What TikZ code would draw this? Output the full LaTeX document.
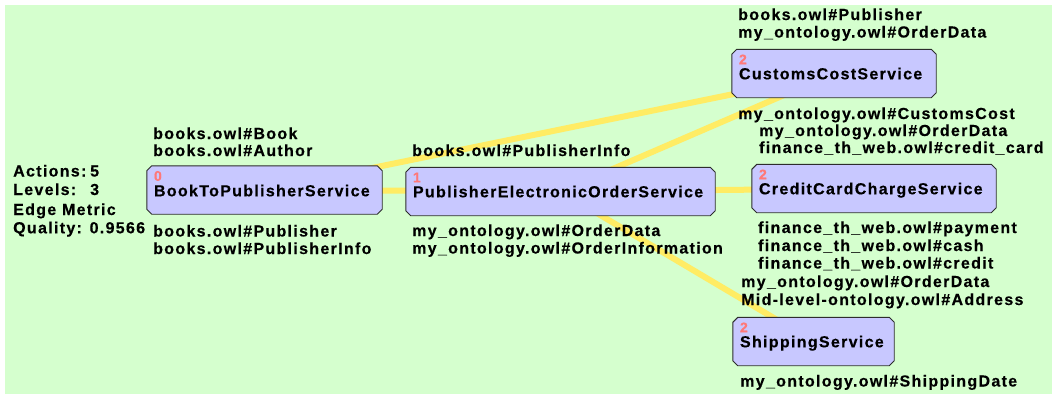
\documentclass[tikz,border=0pt]{standalone}
\usepackage{fontspec}
\newfontfamily\lblfont{Liberation Sans}[LetterSpace=8.2, BoldFeatures={FakeBold=0.4}]
\usetikzlibrary{calc}
\pgfdeclarelayer{edgelayer}
\pgfsetlayers{edgelayer,main}
\definecolor{bggreen}{RGB}{213,255,206}
\definecolor{boxfill}{RGB}{200,200,255}
\definecolor{boxline}{RGB}{45,45,45}
\definecolor{numred}{RGB}{255,120,120}
\definecolor{edgeyellow}{RGB}{255,236,100}
\tikzset{
  svc/.style={rectangle, minimum height=48pt, inner sep=0pt, draw=none},
  boxstyle/.style={fill=boxfill, draw=boxline, line width=0.9pt},
  lbl/.style={anchor=base west, inner sep=0pt, font=\lblfont\bfseries\fontsize{16}{18}\selectfont},
  num/.style={anchor=base west, inner sep=0pt, text=numred, font=\lblfont\bfseries\fontsize{14}{16}\selectfont},
  link/.style={line width=6pt, draw=edgeyellow},
}
\newcommand\chambox[1]{\draw[boxstyle] ($(#1.north west)+(5,0)$) -- ($(#1.north east)+(-5,0)$) -- ($(#1.north east)+(0,5)$) -- ($(#1.south east)+(0,-5)$) -- ($(#1.south east)+(-5,0)$) -- ($(#1.south west)+(5,0)$) -- ($(#1.south west)+(0,-5)$) -- ($(#1.north west)+(0,5)$) -- cycle;}
\begin{document}
\begin{tikzpicture}[x=1pt,y=-1pt]
\useasboundingbox (0,0) rectangle (1052,394);
% service boxes (geometry)
\node[svc, minimum width=235pt] (b0) at (264.5,190) {};
\node[svc, minimum width=309pt] (b1) at (560.5,191.5) {};
\node[svc, minimum width=204pt] (b2) at (834,73.5) {};
\node[svc, minimum width=244pt] (b3) at (874,188.5) {};
\node[svc, minimum width=161pt] (b4) at (813.5,341.5) {};
\begin{pgfonlayer}{edgelayer}
  \fill[bggreen] (5,5) rectangle (1052,394);
  \draw[link] (b0.center) -- (b2.center);
  \draw[link] (b0.center) -- (b1.center);
  \draw[link] (b1.center) -- (b2.center);
  \draw[link] (b1.center) -- (b3.center);
  \draw[link] (b1.center) -- (b4.center);
\end{pgfonlayer}
\chambox{b0}\chambox{b1}\chambox{b2}\chambox{b3}\chambox{b4}
% box contents
\node[num] (n0) at ($(b0.north west)+(7,15)$) {0};
\node[lbl] (s0) at ($(b0.north west)+(7,30.5)$) {BookToPublisherService};
\node[num] (n1) at ($(b1.north west)+(7,15)$) {1};
\node[lbl] (s1) at ($(b1.north west)+(7,30)$) {PublisherElectronicOrderService};
\node[num] (n2) at ($(b2.north west)+(7,15)$) {2};
\node[lbl] (s2) at ($(b2.north west)+(7,30)$) {CustomsCostService};
\node[num] (n3) at ($(b3.north west)+(7,15)$) {2};
\node[lbl] (s3) at ($(b3.north west)+(7,30)$) {CreditCardChargeService};
\node[num] (n4) at ($(b4.north west)+(7,15)$) {2};
\node[lbl] (s4) at ($(b4.north west)+(7,30)$) {ShippingService};
% statistics
\node[lbl] (st1) at (13,176.5) {\makebox[77pt][l]{Actions:}5};
\node[lbl] (st2) at (13,195) {\makebox[77pt][l]{Levels:}3};
\node[lbl] (st3) at (13,215) {Edge Metric};
\node[lbl] (st4) at (13,233.3) {Quality: 0.9566};
% labels of box 0
\node[lbl] (t0a) at (153,139) {books.owl\#Book};
\node[lbl] (t0b) at (153,156) {books.owl\#Author};
\node[lbl] (t0c) at (153,236.5) {books.owl\#Publisher};
\node[lbl] (t0d) at (153,254) {books.owl\#PublisherInfo};
% labels of box 1
\node[lbl] (t1a) at (412,156) {books.owl\#PublisherInfo};
\node[lbl] (t1b) at (412,236) {my\_ontology.owl\#OrderData};
\node[lbl] (t1c) at (412,253.5) {my\_ontology.owl\#OrderInformation};
% labels of box 2
\node[lbl] (t2a) at (738,20) {books.owl\#Publisher};
\node[lbl] (t2b) at (738,37.5) {my\_ontology.owl\#OrderData};
\node[lbl] (t2c) at (738,119) {my\_ontology.owl\#CustomsCost};
\node[lbl] (t2d) at (759,136) {my\_ontology.owl\#OrderData};
\node[lbl] (t2e) at (759,153) {finance\_th\_web.owl\#credit\_card};
% labels of box 3
\node[lbl] (t3a) at (758,233) {finance\_th\_web.owl\#payment};
\node[lbl] (t3b) at (758,251) {finance\_th\_web.owl\#cash};
\node[lbl] (t3c) at (758,268.5) {finance\_th\_web.owl\#credit};
\node[lbl] (t3d) at (741,287) {my\_ontology.owl\#OrderData};
\node[lbl] (t3e) at (741,305) {Mid-level-ontology.owl\#Address};
% labels of box 4
\node[lbl] (t4a) at (740,386.5) {my\_ontology.owl\#ShippingDate};
\end{tikzpicture}
\end{document}
